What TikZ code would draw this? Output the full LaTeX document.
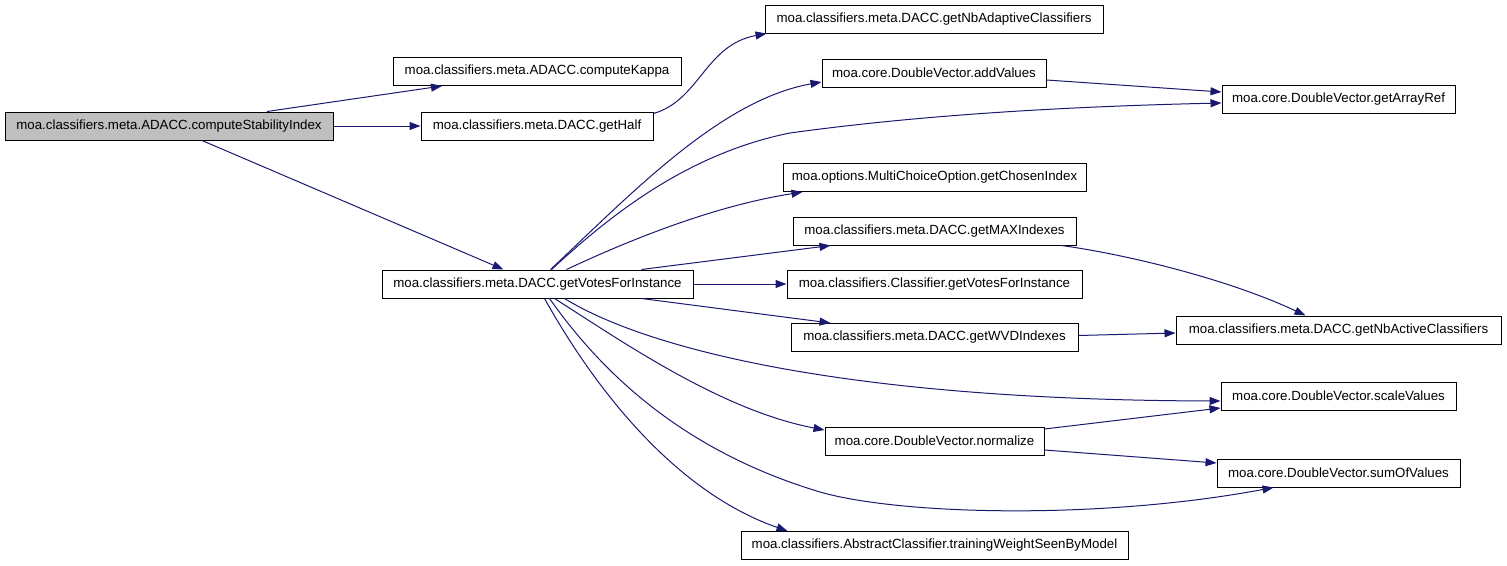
\documentclass[tikz,border=0pt]{standalone}
\usepackage{fontspec}
\setmainfont{Liberation Sans}
\usetikzlibrary{arrows.meta}
\definecolor{edgeblue}{RGB}{25,25,112}
\definecolor{rootgray}{RGB}{191,191,191}
\tikzset{
  fn/.style={draw=black, line width=1pt, minimum height=28pt, inner sep=0pt, anchor=center,
    font=\fontsize{13.3}{16}\selectfont, fill=white},
  rootfn/.style={fn, fill=rootgray},
  call/.style={draw=edgeblue, line width=1pt, -{Triangle[length=11pt,width=8pt]}, fill=none},
}
\begin{document}
\begin{tikzpicture}[x=1pt,y=-1pt]
\useasboundingbox (0,0) rectangle (1507,565);
\node[rootfn, minimum width=328pt] (nstab) at (169,126) {moa.classifiers.meta.ADACC.computeStabilityIndex};
\node[fn, minimum width=288pt] (nkappa) at (537,71.5) {moa.classifiers.meta.ADACC.computeKappa};
\node[fn, minimum width=232pt] (nhalf) at (537,126) {moa.classifiers.meta.DACC.getHalf};
\node[fn, minimum width=311pt] (ndvotes) at (537.5,284) {moa.classifiers.meta.DACC.getVotesForInstance};
\node[fn, minimum width=338pt] (nnbadapt) at (934,19) {moa.classifiers.meta.DACC.getNbAdaptiveClassifiers};
\node[fn, minimum width=224pt] (naddv) at (934,73) {moa.core.DoubleVector.addValues};
\node[fn, minimum width=233pt] (narrref) at (1338.5,99) {moa.core.DoubleVector.getArrayRef};
\node[fn, minimum width=303pt] (nchosen) at (934.5,177.5) {moa.options.MultiChoiceOption.getChosenIndex};
\node[fn, minimum width=283pt] (nmaxidx) at (934.5,231) {moa.classifiers.meta.DACC.getMAXIndexes};
\node[fn, minimum width=295pt] (ncvotes) at (934.5,284) {moa.classifiers.Classifier.getVotesForInstance};
\node[fn, minimum width=287pt] (nwvd) at (934.5,337.5) {moa.classifiers.meta.DACC.getWVDIndexes};
\node[fn, minimum width=325pt] (nnbactive) at (1338.5,330) {moa.classifiers.meta.DACC.getNbActiveClassifiers};
\node[fn, minimum width=235pt] (nscale) at (1338.5,396) {moa.core.DoubleVector.scaleValues};
\node[fn, minimum width=219pt] (nnormalize) at (934.5,441) {moa.core.DoubleVector.normalize};
\node[fn, minimum width=243pt] (nsum) at (1338.5,473) {moa.core.DoubleVector.sumOfValues};
\node[fn, minimum width=387pt] (ntraining) at (934.5,545.5) {moa.classifiers.AbstractClassifier.trainingWeightSeenByModel};

\draw[call] ([xshift=98pt]nstab.north) -- ([xshift=-95pt]nkappa.south);
\draw[call] (nstab.east) -- (nhalf.west);
\draw[call] ([xshift=33pt]nstab.south) -- ([xshift=-34pt]ndvotes.north);
\draw[call] ([yshift=-2pt]nhalf.north east) .. controls (700,100) and (705,45) .. ([xshift=2pt]nnbadapt.south west);
\draw[call] ([xshift=13pt]ndvotes.north) .. controls (630,195) and (720,100) .. ([yshift=-9pt]naddv.west);
\draw[call] ([xshift=14pt]ndvotes.north) .. controls (600,225) and (680,155) .. (790,133) .. controls (870,122) and (1000,108) .. ([yshift=-4pt]narrref.west);
\draw[call] ([xshift=29pt]ndvotes.north) .. controls (640,235) and (720,205) .. ([xshift=-132pt]nchosen.south);
\draw[call] ([xshift=104pt]ndvotes.north) -- ([xshift=-104pt]nmaxidx.south);
\draw[call] (ndvotes.east) -- (ncvotes.west);
\draw[call] ([xshift=104pt]ndvotes.south) -- ([xshift=-104pt]nwvd.north);
\draw[call] ([xshift=27pt]ndvotes.south) .. controls (640,345) and (830,400) .. ([yshift=-5pt]nscale.west);
\draw[call] ([xshift=17pt]ndvotes.south) .. controls (620,340) and (720,410) .. ([yshift=11pt]nnormalize.west);
\draw[call] ([xshift=12pt]ndvotes.south) .. controls (600,370) and (680,450) .. (820,492) .. controls (900,515) and (1100,520) .. ([xshift=-65pt]nsum.south);
\draw[call] ([xshift=7pt]ndvotes.south) .. controls (590,380) and (670,490) .. ([xshift=-147pt]ntraining.north);
\draw[call] ([yshift=-7pt]naddv.east) -- ([yshift=7pt]narrref.west);
\draw[call] ([xshift=127pt]nmaxidx.south) .. controls (1130,255) and (1230,280) .. ([xshift=-33pt]nnbactive.north);
\draw[call] ([yshift=2pt]nwvd.east) -- ([yshift=-3pt]nnbactive.west);
\draw[call] ([yshift=12pt]nnormalize.east) -- ([yshift=-12pt]nscale.west);
\draw[call] ([yshift=-9pt]nnormalize.east) -- ([yshift=10pt]nsum.west);
\end{tikzpicture}
\end{document}
